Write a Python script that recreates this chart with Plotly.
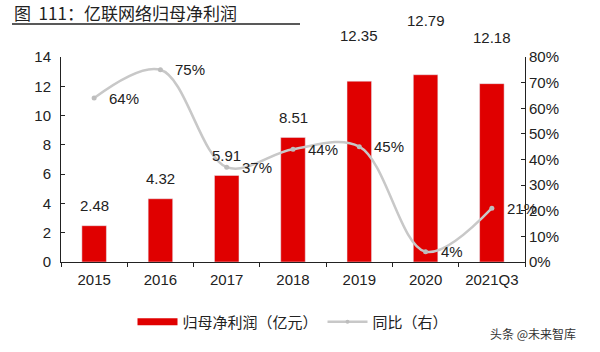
import plotly.graph_objects as go

categories = ["2015", "2016", "2017", "2018", "2019", "2020", "2021Q3"]
profit = [2.48, 4.32, 5.91, 8.51, 12.35, 12.79, 12.18]
yoy = [64, 75, 37, 44, 45, 4, 21]
left_ticks = [0, 2, 4, 6, 8, 10, 12, 14]
right_ticks = [0, 10, 20, 30, 40, 50, 60, 70, 80]

# label vertical offsets (px) for bar value labels
bar_label_shift = [20, 20, 20, 20, 46, 54, 46]

L, R, T, B = 61, 75, 57, 90
W, H = 600, 352
pw, ph = W - L - R, H - T - B

def px(x):
    return (x - L) / pw

def py(y):
    return (H - B - y) / ph

CJK = "Noto Sans CJK SC"
LAT = "Liberation Sans"

fig = go.Figure()
fig.add_trace(go.Bar(x=categories, y=profit, marker_color="#e00000", width=0.37,
                     showlegend=False, yaxis="y"))
fig.add_trace(go.Scatter(x=categories, y=yoy, yaxis="y2", mode="lines+markers",
                         line=dict(color="#c8c8c8", width=2.5, shape="spline", smoothing=1),
                         marker=dict(color="#bdbdbd", size=5), showlegend=False))
# legend proxies
fig.add_trace(go.Scatter(x=[categories[0]], y=[None], mode="lines", line=dict(color="#e00000", width=7),
                         name="归母净利润（亿元）"))
fig.add_trace(go.Scatter(x=[categories[0]], y=[None], mode="lines+markers", line=dict(color="#c8c8c8", width=2.5),
                         marker=dict(color="#bdbdbd", size=4), name="同比（右）", yaxis="y2"))

ann = []
for i, (v, s) in enumerate(zip(profit, bar_label_shift)):
    ann.append(dict(x=i, y=v, xref="x", yref="y", text=f"{v:.2f}", showarrow=False,
                    yshift=s, font=dict(family=LAT, size=15, color="#222")))
for i, v in enumerate(yoy):
    ann.append(dict(x=i, y=v, xref="x", yref="y2", text=f"{v}%", showarrow=False,
                    xanchor="left", xshift=13, yshift=0, font=dict(family=LAT, size=15, color="#222")))
ann.append(dict(x=px(12), y=py(12), xref="paper", yref="paper", xanchor="left", yanchor="middle",
                text="图  111：亿联网络归母净利润", showarrow=False,
                font=dict(family=CJK, size=17, color="#222")))
ann.append(dict(x=px(488), y=py(333), xref="paper", yref="paper", xanchor="left", yanchor="middle",
                text="头条 @未来智库", showarrow=False,
                font=dict(family=CJK, size=12, color="#333")))

fig.update_layout(
    width=W, height=H, margin=dict(l=L, r=R, t=T, b=B),
    paper_bgcolor="white", plot_bgcolor="white",
    xaxis=dict(type="category", categoryorder="array", categoryarray=categories,
               range=[-0.5, len(categories) - 0.5],
               showline=True, linecolor="#222", linewidth=1,
               ticks="outside", ticklen=4, tickcolor="#222", tickson="boundaries",
               ticklabelstandoff=4,
               tickfont=dict(family=LAT, size=15, color="#222"), showgrid=False),
    yaxis=dict(range=[0, 14], tickvals=left_ticks, showline=True, linecolor="#222", linewidth=1,
               ticks="inside", ticklen=4, tickcolor="#222", showgrid=False, zeroline=False,
               ticklabelstandoff=6,
               tickfont=dict(family=LAT, size=15, color="#222")),
    yaxis2=dict(range=[0, 80], tickvals=right_ticks, ticktext=[f"{t}%" for t in right_ticks],
                overlaying="y", side="right", showline=True, linecolor="#222", linewidth=1,
                ticks="inside", ticklen=4, tickcolor="#222", showgrid=False, zeroline=False,
                tickfont=dict(family=LAT, size=15, color="#222")),
    legend=dict(orientation="h", x=0.5, xanchor="center", y=py(322), yanchor="middle",
                font=dict(family=CJK, size=15, color="#222"), itemwidth=40,
                bgcolor="rgba(0,0,0,0)"),
    annotations=ann,
    shapes=[dict(type="line", xref="paper", yref="paper", x0=px(12), x1=px(300),
                 y0=py(24), y1=py(24), line=dict(color="#222", width=1.5))],
    showlegend=True,
)
fig.write_html("out.html")
